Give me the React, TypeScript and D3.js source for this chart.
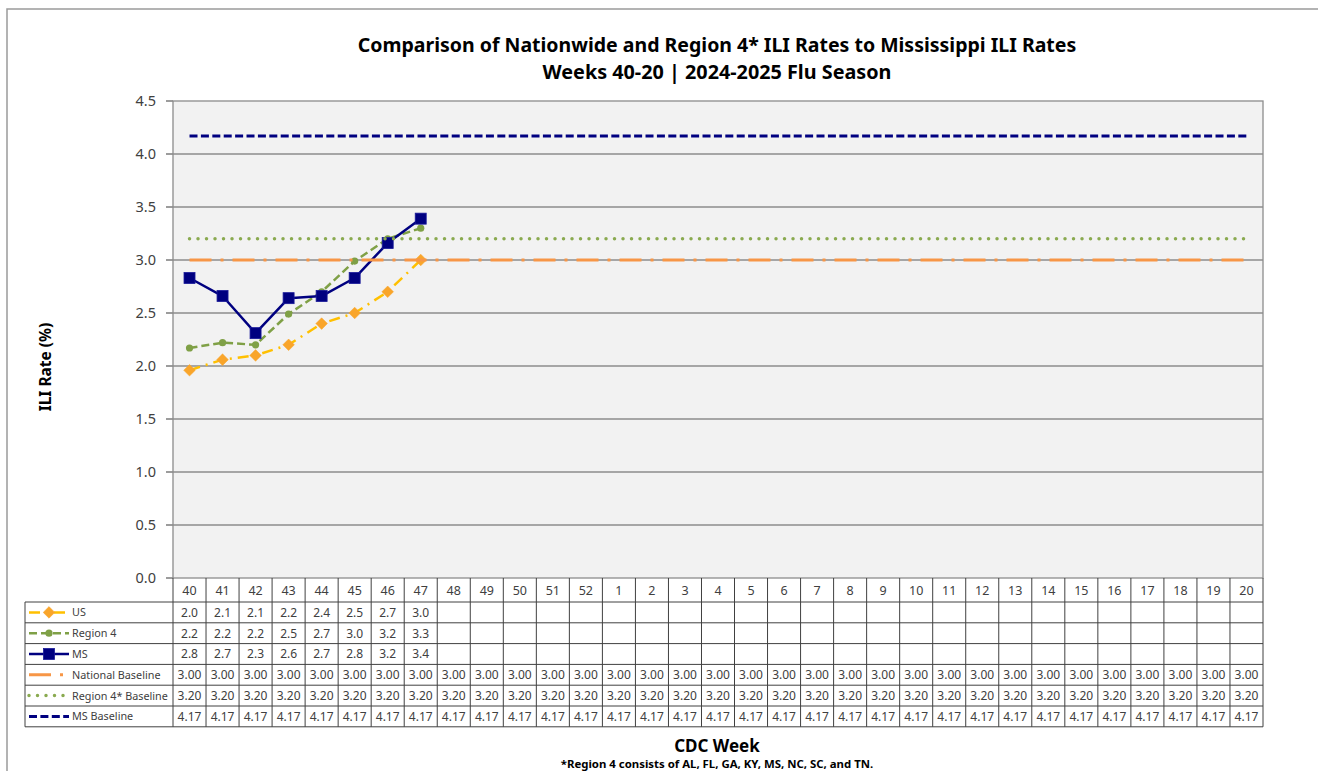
import React from "react";
import * as d3 from "d3";

const weeks = ["40","41","42","43","44","45","46","47","48","49","50","51","52","1","2","3","4","5","6","7","8","9","10","11","12","13","14","15","16","17","18","19","20"];
const usValues = [1.96, 2.06, 2.10, 2.20, 2.40, 2.50, 2.70, 3.00];
const region4Values = [2.17, 2.22, 2.20, 2.49, 2.70, 2.99, 3.20, 3.30];
const msValues = [2.83, 2.66, 2.31, 2.64, 2.66, 2.83, 3.16, 3.39];
const nationalBaseline = 3.0;
const region4Baseline = 3.2;
const msBaseline = 4.17;
const yTicks = [0, 0.5, 1, 1.5, 2, 2.5, 3, 3.5, 4, 4.5];

const FONT = "'Noto Sans', 'Open Sans', sans-serif";

type Series = {
  name: string;
  values: number[];
  color: string;
  width: number;
  dash: string;
  cap: string;
  marker: "diamond" | "circle" | "square" | null;
  markerColor: string;
  decimals: number;
};

const baselineArr = (v: number) => weeks.map(() => v);

const series: Series[] = [
  { name: "US", values: usValues, color: "#FFC000", width: 2.5, dash: "11,6,2,6", cap: "butt", marker: "diamond", markerColor: "#F9A52A", decimals: 1 },
  { name: "Region 4", values: region4Values, color: "#7FA046", width: 2.5, dash: "8,4", cap: "butt", marker: "circle", markerColor: "#7FA046", decimals: 1 },
  { name: "MS", values: msValues, color: "#000080", width: 2.5, dash: "", cap: "butt", marker: "square", markerColor: "#000080", decimals: 1 },
  { name: "National Baseline", values: baselineArr(nationalBaseline), color: "#F79646", width: 3, dash: "22,9,3,9", cap: "butt", marker: null, markerColor: "", decimals: 2 },
  { name: "Region 4* Baseline", values: baselineArr(region4Baseline), color: "#8AAA50", width: 3.5, dash: "0,8.5", cap: "round", marker: null, markerColor: "", decimals: 2 },
  { name: "MS Baseline", values: baselineArr(msBaseline), color: "#000080", width: 3, dash: "8,3.4", cap: "butt", marker: null, markerColor: "", decimals: 2 },
];

const L = 173, R = 1263, T = 101, B = 578;
const TABLE_LEFT = 25;
const HEADER_H = 24;
const ROW_H = 20.8;

function Marker({ kind, x, y, color }: { kind: string | null; x: number; y: number; color: string }) {
  if (kind === "diamond") {
    const s = 5.8;
    return <path d={`M${x},${y - s}L${x + s},${y}L${x},${y + s}L${x - s},${y}Z`} fill={color} stroke={color} strokeWidth={0.5} />;
  }
  if (kind === "circle") return <circle cx={x} cy={y} r={3.6} fill={color} />;
  if (kind === "square") return <rect x={x - 5.5} y={y - 5.5} width={11} height={11} fill={color} stroke="#1a1a9a" strokeWidth={0.8} />;
  return null;
}

export default function App() {
  const x = d3.scaleBand<string>().domain(weeks).range([L, R]).paddingInner(0).paddingOuter(0);
  const y = d3.scaleLinear().domain([0, 4.5]).range([B, T]);
  const cx = (w: string) => (x(w) as number) + x.bandwidth() / 2;

  const line = d3.line<number>().x((_, i) => cx(weeks[i])).y((v) => y(v));

  const tableTop = B;
  const tableRows = series.length;
  const tableBottom = tableTop + HEADER_H + tableRows * ROW_H;

  return (
    <svg width={1318} height={771} style={{ position: "absolute", left: 0, top: 0, background: "#fff" }} fontFamily={FONT}>
      {/* outer frame */}
      <rect x={7} y={9} width={1330} height={800} fill="#fff" stroke="#9a9a9a" strokeWidth={1.5} />

      {/* title */}
      <text x={717} y={52} textAnchor="middle" fontSize={19.5} fontWeight="bold" fill="#000">Comparison of Nationwide and Region 4* ILI Rates to Mississippi ILI Rates</text>
      <text x={717} y={79} textAnchor="middle" fontSize={19.8} fontWeight="bold" fill="#000">Weeks 40-20 | 2024-2025 Flu Season</text>

      {/* plot area */}
      <rect x={L} y={T} width={R - L} height={B - T} fill="#F2F2F2" />
      {yTicks.map((t) => (
        <g key={t}>
          {t > 0 && t < 4.5 && <line x1={L} x2={R} y1={y(t)} y2={y(t)} stroke="#5a5a5a" strokeWidth={1.2} />}
          <line x1={L - 7} x2={L} y1={y(t)} y2={y(t)} stroke="#5a5a5a" strokeWidth={1.2} />
          <text x={156} y={y(t) + 5} textAnchor="end" fontSize={14.5} fill="#404040">{t.toFixed(1)}</text>
        </g>
      ))}
      <rect x={L} y={T} width={R - L} height={B - T} fill="none" stroke="#8c8c8c" strokeWidth={1.3} />

      {/* series */}
      {series.map((s) => (
        <g key={s.name}>
          <path d={line(s.values) || ""} fill="none" stroke={s.color} strokeWidth={s.width} strokeDasharray={s.dash || undefined} strokeLinecap={s.cap as any} strokeLinejoin="round" />
          {s.marker && s.values.map((v, i) => <Marker key={i} kind={s.marker} x={cx(weeks[i])} y={y(v)} color={s.markerColor} />)}
        </g>
      ))}

      {/* y axis label */}
      <text transform={`translate(51,367) rotate(-90)`} textAnchor="middle" fontSize={15.5} fontWeight="bold" fill="#000">ILI Rate (%)</text>

      {/* data table */}
      <g>
        {weeks.map((w) => (
          <text key={w} x={cx(w)} y={tableTop + 17} textAnchor="middle" fontSize={12.5} fill="#404040">{w}</text>
        ))}
        {series.map((s, ri) => {
          const ry = tableTop + HEADER_H + ri * ROW_H;
          const my = ry + ROW_H / 2;
          return (
            <g key={s.name}>
              <line x1={29} x2={69} y1={my} y2={my} stroke={s.color} strokeWidth={s.width} strokeDasharray={s.dash || undefined} strokeLinecap={s.cap as any} />
              {s.marker && <Marker kind={s.marker} x={49} y={my} color={s.markerColor} />}
              <text x={72} y={my + 4} fontSize={10.8} fill="#404040">{s.name}</text>
              {s.values.map((v, i) => (
                <text key={i} x={cx(weeks[i])} y={my + 4.3} textAnchor="middle" fontSize={12} fill="#404040">{v.toFixed(s.decimals)}</text>
              ))}
            </g>
          );
        })}
        {d3.range(tableRows + 1).map((i) => {
          const yy = tableTop + HEADER_H + i * ROW_H;
          return <line key={"h" + i} x1={TABLE_LEFT} x2={R} y1={yy} y2={yy} stroke="#404040" strokeWidth={1} />;
        })}
        <line x1={TABLE_LEFT} x2={TABLE_LEFT} y1={tableTop + HEADER_H} y2={tableBottom} stroke="#404040" strokeWidth={1} />
        {weeks.map((w) => (
          <line key={"v" + w} x1={x(w) as number} x2={x(w) as number} y1={tableTop} y2={tableBottom} stroke="#404040" strokeWidth={1} />
        ))}
        <line x1={R} x2={R} y1={tableTop} y2={tableBottom} stroke="#404040" strokeWidth={1} />
      </g>

      {/* x axis title and footnote */}
      <text x={717} y={752} textAnchor="middle" fontSize={17} fontWeight="bold" fill="#000">CDC Week</text>
      <text x={717} y={768} textAnchor="middle" fontSize={11.4} fontWeight="bold" fill="#000">*Region 4 consists of AL, FL, GA, KY, MS, NC, SC, and TN.</text>
    </svg>
  );
}
